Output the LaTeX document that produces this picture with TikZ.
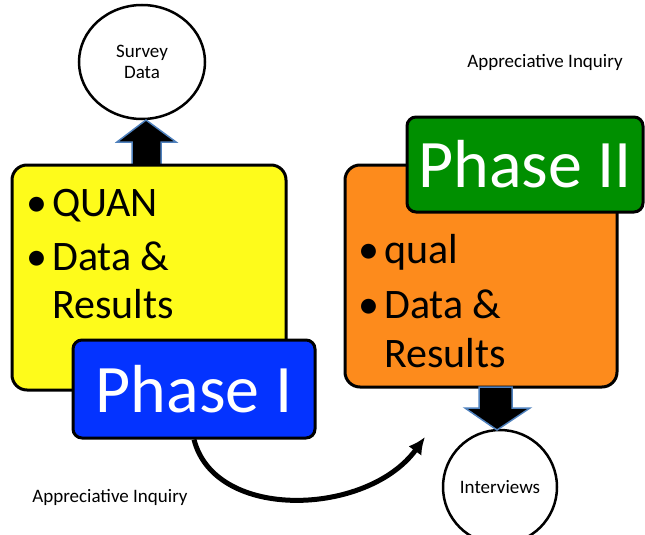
\documentclass[tikz,border=0pt]{standalone}
\usepackage{fontspec}
\setmainfont{Carlito}
\usetikzlibrary{shapes.geometric, arrows.meta}

\definecolor{quanyellow}{RGB}{254,251,27}
\definecolor{qualorange}{RGB}{253,139,28}
\definecolor{phaseblue}{RGB}{4,51,255}
\definecolor{phasegreen}{RGB}{0,143,0}
\definecolor{arrowedge}{RGB}{79,129,189}

\tikzset{
  bigbox/.style={draw=black, line width=3pt, rounded corners=15pt, inner sep=0pt},
  phasebox/.style={draw=black, line width=3pt, rounded corners=9pt, inner sep=0pt,
    text=white, font=\fontsize{68}{80}\selectfont},
  bullettext/.style={anchor=base west, inner sep=0pt, font=\fontsize{42}{50}\selectfont},
  blob/.style={ellipse, draw=black, line width=2.5pt, fill=white, inner sep=0pt,
    align=center, font=\fontsize{19}{21.5}\selectfont},
  blockarrow/.style={fill=black, draw=arrowedge, line width=1.5pt, line join=miter},
  smalltext/.style={font=\fontsize{19}{22}\selectfont}
}

% bullet, then the item text
\newcommand{\bul}{\makebox[25.5pt][l]{\textbullet}}

\begin{document}
\begin{tikzpicture}[x=1pt, y=-1pt]
\useasboundingbox (0,0) rectangle (645,535);
\clip (0,0) rectangle (645,535);

% phase one: quantitative side
\node[blob, minimum width=126pt, minimum height=114pt] (survey) at (142,62) {Survey\\Data};
\draw[blockarrow] (132,165) -- (132,142) -- (117,142) -- (146,120) -- (176,142)
                  -- (161,142) -- (161,165) -- cycle;
\node[bigbox, fill=quanyellow, minimum width=274pt, minimum height=225pt] (quanbox) at (149,277.5) {};
\node[bullettext] (quanA) at (26.5,216) {\bul QUAN};
\node[bullettext] (quanB) at (26.5,270) {\bul Data \&};
\node[bullettext] (quanC) at (52,318) {Results};
\node[phasebox, fill=phaseblue, minimum width=242pt, minimum height=98pt] (phaseone) at (194,389) {Phase I};

% phase two: qualitative side
\node[bigbox, fill=qualorange, minimum width=272pt, minimum height=222pt] (qualbox) at (481,276) {};
\node[bullettext] (qualA) at (358.5,263) {\bul qual};
\node[bullettext] (qualB) at (358.5,318) {\bul Data \&};
\node[bullettext] (qualC) at (384,367) {Results};
\node[phasebox, fill=phasegreen, minimum width=236pt, minimum height=95pt] (phasetwo) at (525,164.5) {Phase II};

\node[blob, minimum width=114pt, minimum height=114pt] (interviews) at (500,487) {Interviews};
\draw[blockarrow] (479,387) -- (479,408) -- (465,408) -- (497,430) -- (530,408)
                  -- (512,408) -- (512,387) -- cycle;

% link between the phases
\coordinate (aiend) at (425,437);
\draw[line width=5pt, -{Latex[length=17pt, width=16pt]}]
  (phaseone.south) .. controls (215,522) and (368,516) .. (aiend);

\node[smalltext] (ailow) at (110,497) {Appreciative Inquiry};
\node[smalltext] (aihigh) at (545,62) {Appreciative Inquiry};
\end{tikzpicture}
\end{document}
